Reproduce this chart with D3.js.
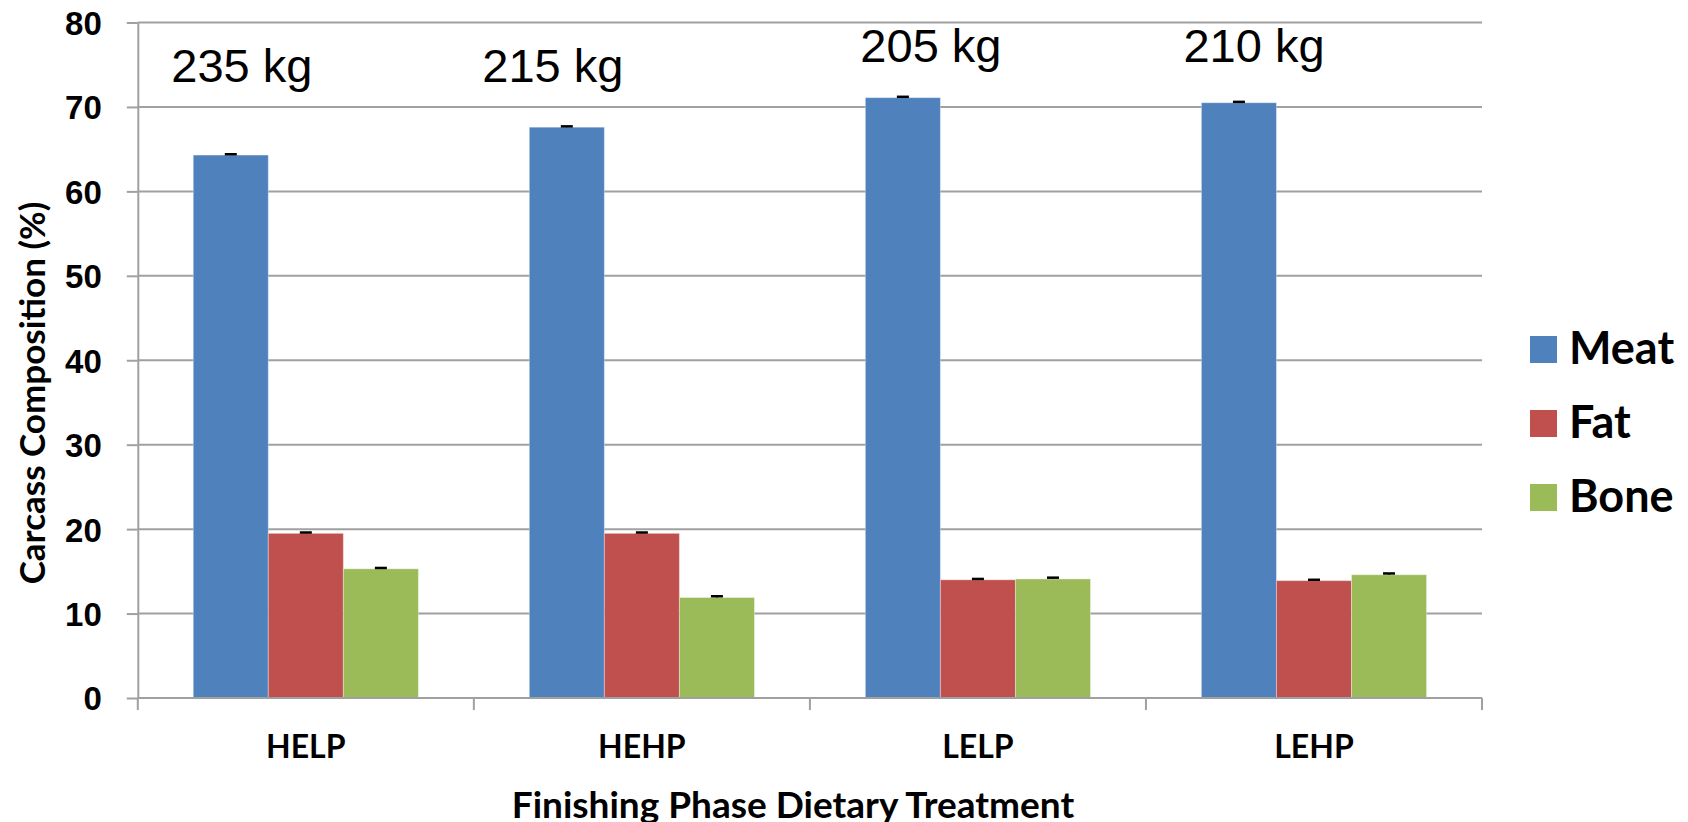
<!DOCTYPE html>
<html>
<head>
<meta charset="utf-8">
<script src="https://cdn.jsdelivr.net/npm/d3@7"></script>
<style>
  html, body { margin: 0; padding: 0; background: #ffffff; }
  svg { display: block; }
</style>
</head>
<body>
<svg id="chart" width="1688" height="822"></svg>
<script>
// ---- data ----
const categories = ["HELP", "HEHP", "LELP", "LEHP"];
const seriesNames = ["Meat", "Fat", "Bone"];
const meatValues = [64.3, 67.6, 71.1, 70.5];
const fatValues  = [19.5, 19.5, 14.0, 13.9];
const boneValues = [15.3, 11.9, 14.1, 14.6];
const meatErrors = [0.1, 0.1, 0.1, 0.1];
const fatErrors  = [0.1, 0.1, 0.1, 0.1];
const boneErrors = [0.1, 0.15, 0.15, 0.15];
const weightLabels = ["235 kg", "215 kg", "205 kg", "210 kg"];
const yTicks = [0, 10, 20, 30, 40, 50, 60, 70, 80];

// ---- layout / style ----
const colors = ["#4F81BD", "#C0504D", "#9BBB59"];
const plot = { left: 137.8, right: 1482, top: 22.5, bottom: 698 };
const labelOffsetX = [-64, -89, -47, -60];   // text-box placement relative to category centre
const labelBaseline = [82, 82, 62, 62];
const gridColor = "#A0A0A0";
const sansBold = "'Liberation Sans', Arial, sans-serif";
const calibriLike = "Lato, 'Open Sans', sans-serif";

const svg = d3.select("#chart");

const y = d3.scaleLinear().domain([0, 80]).range([plot.bottom, plot.top]);
const x0 = d3.scaleBand().domain(categories).range([plot.left, plot.right])
  .paddingInner(0.33).paddingOuter(0.165);
const x1 = d3.scaleBand().domain(seriesNames).range([0, x0.bandwidth()]).padding(0);

// gridlines
svg.append("g").selectAll("line").data(yTicks.filter(t => t > 0)).join("line")
  .attr("x1", plot.left).attr("x2", plot.right)
  .attr("y1", d => y(d)).attr("y2", d => y(d))
  .attr("stroke", gridColor).attr("stroke-width", 2);

// y axis
const yAxis = d3.axisLeft(y).tickValues(yTicks).tickSize(11).tickPadding(25).tickSizeOuter(0);
const gy = svg.append("g").attr("transform", `translate(${plot.left},0)`).call(yAxis);
gy.select(".domain").attr("stroke", gridColor).attr("stroke-width", 2);
gy.selectAll(".tick line").attr("stroke", gridColor).attr("stroke-width", 2);
gy.selectAll(".tick text").attr("font-family", sansBold).attr("font-weight", "bold")
  .attr("font-size", 33).attr("fill", "#000").attr("dy", "0.36em");

// series data
const seriesVals = [meatValues, fatValues, boneValues];
const seriesErr = [meatErrors, fatErrors, boneErrors];
const barData = [];
categories.forEach((c, i) => {
  seriesNames.forEach((s, j) => {
    barData.push({ cat: c, series: s, value: seriesVals[j][i], err: seriesErr[j][i], color: colors[j] });
  });
});

// bars
svg.append("g").selectAll("rect").data(barData).join("rect")
  .attr("x", d => x0(d.cat) + x1(d.series))
  .attr("y", d => y(d.value))
  .attr("width", x1.bandwidth())
  .attr("height", d => y(0) - y(d.value))
  .attr("fill", d => d.color)
  .attr("stroke", "rgba(255,255,255,0.35)").attr("stroke-width", 1);

// error bars
const eg = svg.append("g");
barData.forEach(d => {
  const cx = x0(d.cat) + x1(d.series) + x1.bandwidth() / 2;
  eg.append("line").attr("x1", cx).attr("x2", cx)
    .attr("y1", y(d.value)).attr("y2", y(d.value + d.err))
    .attr("stroke", "#000").attr("stroke-width", 1.5);
  eg.append("line").attr("x1", cx - 6).attr("x2", cx + 6)
    .attr("y1", y(d.value + d.err)).attr("y2", y(d.value + d.err))
    .attr("stroke", "#000").attr("stroke-width", 2.5);
});

// x axis (category separators)
const xAxisLine = svg.append("g");
xAxisLine.append("line").attr("x1", plot.left).attr("x2", plot.right)
  .attr("y1", y(0)).attr("y2", y(0)).attr("stroke", gridColor).attr("stroke-width", 2);
const step = x0.step();
const seps = d3.range(categories.length + 1).map(i => plot.left + i * step);
xAxisLine.selectAll("line.sep").data(seps).join("line").attr("class", "sep")
  .attr("x1", d => d).attr("x2", d => d)
  .attr("y1", y(0)).attr("y2", y(0) + 12)
  .attr("stroke", gridColor).attr("stroke-width", 2);

// category labels
svg.append("g").selectAll("text").data(categories).join("text")
  .attr("x", d => x0(d) + x0.bandwidth() / 2)
  .attr("y", 758)
  .attr("text-anchor", "middle")
  .attr("font-family", calibriLike).attr("font-weight", "bold").attr("font-size", 32)
  .attr("fill", "#000")
  .text(d => d);

// weight annotations
svg.append("g").selectAll("text").data(weightLabels).join("text")
  .attr("x", (d, i) => x0(categories[i]) + x0.bandwidth() / 2 + labelOffsetX[i])
  .attr("y", (d, i) => labelBaseline[i])
  .attr("text-anchor", "middle")
  .attr("font-family", "'Liberation Sans', Arial, sans-serif").attr("font-size", 47)
  .attr("fill", "#000")
  .text(d => d);

// axis titles
svg.append("text")
  .attr("x", 793).attr("y", 818)
  .attr("text-anchor", "middle")
  .attr("font-family", calibriLike).attr("font-weight", "bold").attr("font-size", 37)
  .attr("fill", "#000")
  .text("Finishing Phase Dietary Treatment");

svg.append("text")
  .attr("transform", "translate(45,393) rotate(-90)")
  .attr("text-anchor", "middle")
  .attr("font-family", calibriLike).attr("font-weight", "bold").attr("font-size", 35)
  .attr("fill", "#000")
  .text("Carcass Composition (%)");

// legend
const lg = svg.append("g");
seriesNames.forEach((s, j) => {
  const top = 336 + j * 74;
  lg.append("rect").attr("x", 1530).attr("y", top).attr("width", 27).attr("height", 27)
    .attr("fill", colors[j]);
  lg.append("text").attr("x", 1569).attr("y", top + 28)
    .attr("font-family", calibriLike).attr("font-weight", "bold").attr("font-size", 45)
    .attr("fill", "#000").text(s);
});
</script>
</body>
</html>
